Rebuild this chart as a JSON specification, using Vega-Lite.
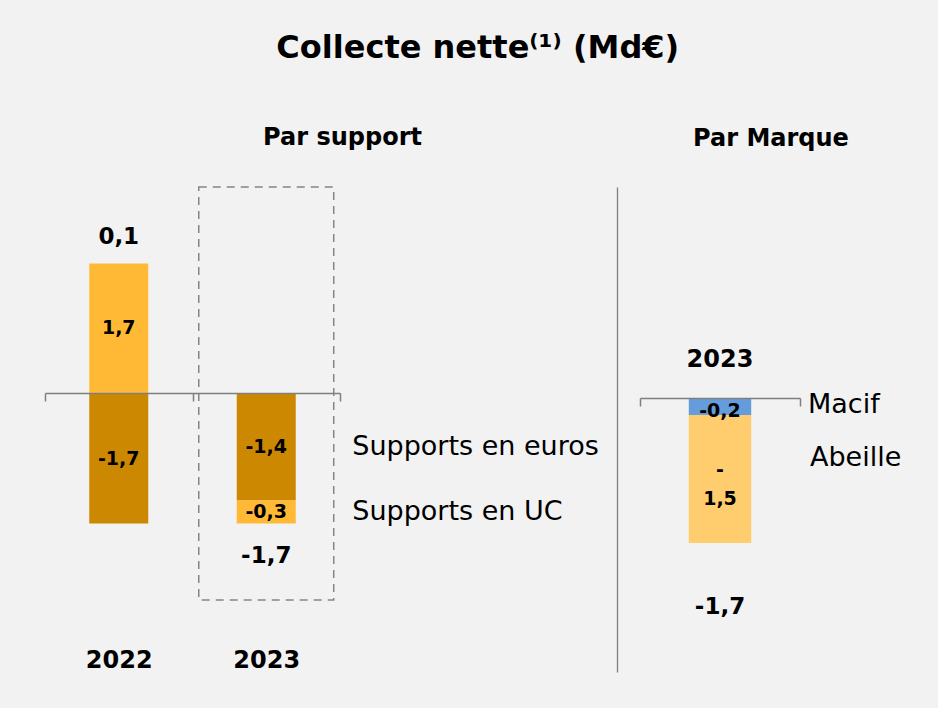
{
  "$schema": "https://vega.github.io/schema/vega-lite/v6.json",
  "background": "#f2f2f2",
  "autosize": {"type": "pad"},
  "padding": {"left": 44, "top": 32, "right": 37, "bottom": 40},
  "bounds": "flush",
  "spacing": 300,
  "resolve": {"scale": {"color": "independent"}},
  "title": {"text": "Collecte nette⁽¹⁾ (Md€)", "fontSize": 32, "fontWeight": "bold", "font": "DejaVu Sans", "color": "#000000", "anchor": "middle", "dx": 5, "offset": 61},
  "datasets": {
    "supports": [
      {"annee": "2022", "support": "Supports en UC", "valeur": 1.7, "total": 0.1},
      {"annee": "2022", "support": "Supports en euros", "valeur": -1.7, "total": 0.1},
      {"annee": "2023", "support": "Supports en euros", "valeur": -1.4, "total": -1.7},
      {"annee": "2023", "support": "Supports en UC", "valeur": -0.3, "total": -1.7}
    ],
    "marques": [
      {"annee": "2023", "marque": "Macif", "valeur": -0.2, "etiquette": "-0,2", "total": -1.7},
      {"annee": "2023", "marque": "Abeille", "valeur": -1.5, "etiquette": "-\n1,5", "total": -1.7}
    ]
  },
  "hconcat": [
    {
      "width": 295,
      "height": 413,
      "title": {"text": "Par support", "fontSize": 24, "fontWeight": "bold", "font": "DejaVu Sans", "color": "#000000", "anchor": "middle", "dx": 150, "offset": 36},
      "data": {"name": "supports"},
      "resolve": {"axis": {"x": "independent", "y": "independent"}},
      "layer": [
        {
          "data": {"values": [{}]},
          "mark": {"type": "bar", "width": {"band": 0.915}, "fill": "transparent", "stroke": "#858585", "strokeWidth": 1.5, "strokeDash": [8, 6]},
          "encoding": {
            "x": {"datum": "2023", "type": "nominal", "axis": null},
            "y": {"datum": 2.7, "type": "quantitative", "axis": null},
            "y2": {"datum": -2.7}
          }
        },
        {
          "mark": {"type": "bar", "width": {"band": 0.4}},
          "encoding": {
            "x": {"field": "annee", "type": "nominal", "scale": {"paddingInner": 0, "paddingOuter": 0},
              "axis": {"orient": "bottom", "offset": -207, "zindex": 1, "title": null, "domain": true, "domainColor": "#7f7f7f", "domainWidth": 1.5, "ticks": true, "tickBand": "extent", "tickColor": "#7f7f7f", "tickWidth": 1.5, "tickSize": 8, "labelAngle": 0, "labelPadding": 247, "labelFont": "DejaVu Sans", "labelFontSize": 24, "labelFontWeight": "bold", "labelColor": "#000000", "grid": false}},
            "y": {"field": "valeur", "type": "quantitative", "stack": "zero", "scale": {"domain": [-2.7, 2.7], "nice": false, "zero": false}, "axis": null},
            "color": {"field": "support", "type": "nominal", "scale": {"domain": ["Supports en euros", "Supports en UC"], "range": ["#CC8800", "#FFB935"]}, "legend": null},
            "order": {"field": "support", "sort": "descending"}
          }
        },
        {
          "transform": [
            {"stack": "valeur", "groupby": ["annee"], "sort": [{"field": "support", "order": "descending"}], "as": ["v0", "v1"]},
            {"fold": ["v0", "v1"], "as": ["borne", "pos"]}
          ],
          "mark": {"type": "text", "fontSize": 19, "fontWeight": "bold", "color": "#000000"},
          "encoding": {
            "x": {"field": "annee", "type": "nominal", "axis": null},
            "y": {"aggregate": "mean", "field": "pos", "type": "quantitative", "axis": null},
            "text": {"field": "valeur", "type": "quantitative", "format": ".1f"}
          }
        },
        {
          "transform": [
            {"stack": "valeur", "groupby": ["annee"], "sort": [{"field": "support", "order": "descending"}], "as": ["v0", "v1"]},
            {"fold": ["v0", "v1"], "as": ["borne", "pos"]},
            {"filter": "datum.annee == '2023'"}
          ],
          "mark": {"type": "text", "fontSize": 27, "align": "left", "dx": 86, "color": "#000000"},
          "encoding": {
            "x": {"field": "annee", "type": "nominal", "axis": null},
            "y": {"aggregate": "mean", "field": "pos", "type": "quantitative", "axis": null},
            "text": {"field": "support", "type": "nominal"}
          }
        },
        {
          "transform": [
            {"stack": "valeur", "groupby": ["annee"], "sort": [{"field": "support", "order": "descending"}], "as": ["v0", "v1"]},
            {"fold": ["v0", "v1"], "as": ["borne", "pos"]},
            {"filter": "datum.annee == '2022'"}
          ],
          "mark": {"type": "text", "fontSize": 23, "fontWeight": "bold", "dy": -26, "color": "#000000"},
          "encoding": {
            "x": {"field": "annee", "type": "nominal", "axis": null},
            "y": {"aggregate": "max", "field": "pos", "type": "quantitative", "axis": null},
            "text": {"field": "total", "type": "quantitative", "format": ".1f"}
          }
        },
        {
          "transform": [
            {"stack": "valeur", "groupby": ["annee"], "sort": [{"field": "support", "order": "descending"}], "as": ["v0", "v1"]},
            {"fold": ["v0", "v1"], "as": ["borne", "pos"]},
            {"filter": "datum.annee == '2023'"}
          ],
          "mark": {"type": "text", "fontSize": 23, "fontWeight": "bold", "dy": 32, "color": "#000000"},
          "encoding": {
            "x": {"field": "annee", "type": "nominal", "axis": null},
            "y": {"aggregate": "min", "field": "pos", "type": "quantitative", "axis": null},
            "text": {"field": "total", "type": "quantitative", "format": ".1f"}
          }
        }
      ]
    },
    {
      "width": 160,
      "height": 485,
      "title": {"text": "Par Marque", "fontSize": 24, "fontWeight": "bold", "font": "DejaVu Sans", "color": "#000000", "anchor": "middle", "dx": 51, "offset": 36},
      "data": {"name": "marques"},
      "resolve": {"axis": {"x": "independent", "y": "independent"}},
      "layer": [
        {
          "mark": {"type": "bar", "width": {"band": 0.39}},
          "encoding": {
            "x": {"field": "annee", "type": "nominal", "scale": {"paddingInner": 0, "paddingOuter": 0},
              "axis": {"orient": "bottom", "offset": -274, "zindex": 1, "title": null, "domain": true, "domainColor": "#7f7f7f", "domainWidth": 1.5, "ticks": true, "tickBand": "extent", "tickColor": "#7f7f7f", "tickWidth": 1.5, "tickSize": 8, "labels": false, "grid": false}},
            "y": {"field": "valeur", "type": "quantitative", "stack": "zero", "scale": {"domain": [-3.21, 2.47], "nice": false, "zero": false},
              "axis": {"orient": "left", "offset": 23, "title": null, "domain": true, "domainColor": "#7f7f7f", "domainWidth": 1.3, "ticks": false, "labels": false, "grid": false}},
            "color": {"field": "marque", "type": "nominal", "scale": {"domain": ["Macif", "Abeille"], "range": ["#659DDC", "#FFCC6E"]}, "legend": null},
            "order": {"field": "marque", "sort": "descending"}
          }
        },
        {
          "transform": [
            {"stack": "valeur", "groupby": ["annee"], "sort": [{"field": "marque", "order": "descending"}], "as": ["v0", "v1"]},
            {"fold": ["v0", "v1"], "as": ["borne", "pos"]},
            {"filter": "datum.marque == 'Macif'"}
          ],
          "mark": {"type": "text", "fontSize": 19, "fontWeight": "bold", "dy": 5, "color": "#000000"},
          "encoding": {
            "x": {"field": "annee", "type": "nominal", "axis": null},
            "y": {"aggregate": "mean", "field": "pos", "type": "quantitative", "axis": null},
            "text": {"field": "etiquette", "type": "nominal"}
          }
        },
        {
          "transform": [
            {"stack": "valeur", "groupby": ["annee"], "sort": [{"field": "marque", "order": "descending"}], "as": ["v0", "v1"]},
            {"fold": ["v0", "v1"], "as": ["borne", "pos"]},
            {"filter": "datum.marque == 'Abeille'"}
          ],
          "mark": {"type": "text", "fontSize": 19, "fontWeight": "bold", "dy": -9, "lineBreak": "\n", "lineHeight": 29, "color": "#000000"},
          "encoding": {
            "x": {"field": "annee", "type": "nominal", "axis": null},
            "y": {"aggregate": "mean", "field": "pos", "type": "quantitative", "axis": null},
            "text": {"field": "etiquette", "type": "nominal"}
          }
        },
        {
          "transform": [
            {"stack": "valeur", "groupby": ["annee"], "sort": [{"field": "marque", "order": "descending"}], "as": ["v0", "v1"]},
            {"fold": ["v0", "v1"], "as": ["borne", "pos"]}
          ],
          "mark": {"type": "text", "fontSize": 24, "fontWeight": "bold", "dy": -38, "color": "#000000"},
          "encoding": {
            "x": {"field": "annee", "type": "nominal", "axis": null},
            "y": {"aggregate": "max", "field": "pos", "type": "quantitative", "axis": null},
            "text": {"field": "annee", "type": "nominal"}
          }
        },
        {
          "transform": [
            {"stack": "valeur", "groupby": ["annee"], "sort": [{"field": "marque", "order": "descending"}], "as": ["v0", "v1"]},
            {"fold": ["v0", "v1"], "as": ["borne", "pos"]}
          ],
          "mark": {"type": "text", "fontSize": 23, "fontWeight": "bold", "dy": 64, "color": "#000000"},
          "encoding": {
            "x": {"field": "annee", "type": "nominal", "axis": null},
            "y": {"aggregate": "min", "field": "pos", "type": "quantitative", "axis": null},
            "text": {"field": "total", "type": "quantitative", "format": ".1f"}
          }
        },
        {
          "transform": [
            {"stack": "valeur", "groupby": ["annee"], "sort": [{"field": "marque", "order": "descending"}], "as": ["v0", "v1"]},
            {"fold": ["v0", "v1"], "as": ["borne", "pos"]},
            {"filter": "datum.marque == 'Macif'"}
          ],
          "mark": {"type": "text", "fontSize": 27, "align": "left", "dx": 88, "dy": -1, "color": "#000000"},
          "encoding": {
            "x": {"field": "annee", "type": "nominal", "axis": null},
            "y": {"aggregate": "mean", "field": "pos", "type": "quantitative", "axis": null},
            "text": {"field": "marque", "type": "nominal"}
          }
        },
        {
          "transform": [
            {"stack": "valeur", "groupby": ["annee"], "sort": [{"field": "marque", "order": "descending"}], "as": ["v0", "v1"]},
            {"fold": ["v0", "v1"], "as": ["borne", "pos"]},
            {"filter": "datum.marque == 'Abeille'"}
          ],
          "mark": {"type": "text", "fontSize": 27, "align": "left", "dx": 90, "dy": -21, "color": "#000000"},
          "encoding": {
            "x": {"field": "annee", "type": "nominal", "axis": null},
            "y": {"aggregate": "mean", "field": "pos", "type": "quantitative", "axis": null},
            "text": {"field": "marque", "type": "nominal"}
          }
        }
      ]
    }
  ],
  "config": {
    "view": {"stroke": null},
    "font": "DejaVu Sans",
    "text": {"font": "DejaVu Sans"},
    "locale": {"number": {"decimal": ",", "thousands": " ", "grouping": [3], "currency": ["", "€"], "minus": "-"}}
  }
}
